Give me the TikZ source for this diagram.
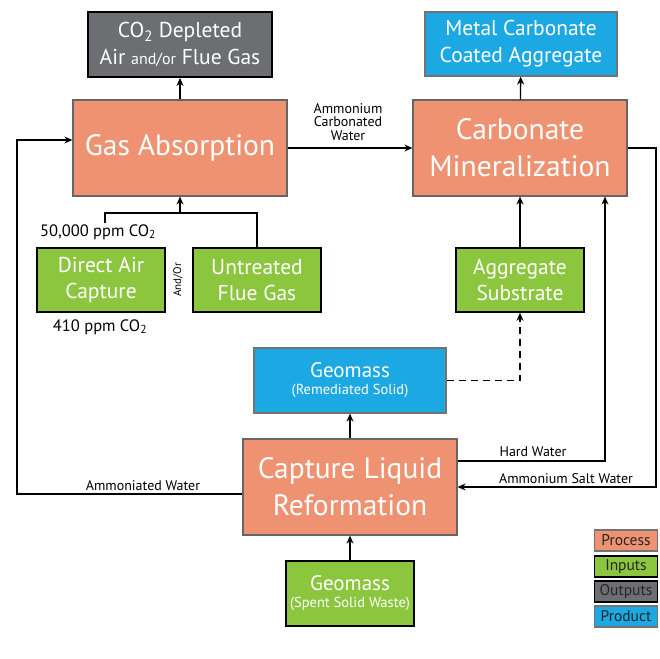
\documentclass[tikz,border=0pt]{standalone}
\usepackage{fontspec}
\setmainfont{PT Sans}
\definecolor{procclr}{HTML}{EF9272}
\definecolor{inclr}{HTML}{8CC63F}
\definecolor{outclr}{HTML}{6D6E71}
\definecolor{prodclr}{HTML}{1BA8E3}
\usetikzlibrary{arrows.meta, positioning, calc}

\tikzset{
  box/.style={rectangle, align=center, text=white, inner sep=2pt},
  procbox/.style={box, fill=procclr, draw=black!60, line width=1.2pt,
    minimum width=214pt, minimum height=96pt,
    font=\fontsize{29.5}{37}\selectfont},
  inbox/.style={box, fill=inclr, draw=black, line width=1.6pt,
    minimum width=128pt, minimum height=64pt,
    font=\fontsize{21.5}{26}\selectfont},
  outbox/.style={box, fill=outclr, draw=black, line width=2pt,
    minimum width=184pt, minimum height=65pt,
    font=\fontsize{21.5}{27}\selectfont},
  prodbox/.style={box, fill=prodclr, draw=black!55, line width=1.2pt,
    minimum width=192pt, minimum height=64pt,
    font=\fontsize{21.5}{27}\selectfont},
  flowlbl/.style={font=\fontsize{14}{13.5}\selectfont, align=center, inner sep=1pt},
  ppmlbl/.style={font=\fontsize{16.5}{17}\selectfont, inner sep=1pt},
  keybox/.style={rectangle, draw=black, line width=1.4pt, minimum width=63pt,
    minimum height=21pt, inner sep=0pt, font=\fontsize{15.5}{16}\selectfont, text=black!85},
  arr/.style={-{Stealth[length=8pt, width=7pt]}, line width=1.3pt},
  line/.style={line width=1.3pt}
}

\begin{document}
\begin{tikzpicture}[x=1pt, y=-1pt]
  \useasboundingbox (0,0) rectangle (659,659);

  % process boxes
  \node[procbox] (gasabs) at (180,148) {Gas Absorption};
  \node[procbox] (carbmin) at (520,148) {Carbonate\\Mineralization};
  \node[procbox] (clr) at (350,487) {Capture Liquid\\Reformation};

  % outputs and products
  \node[outbox] (deplete) at (180,44.5)
    {CO\textsubscript{2} Depleted\\Air {\fontsize{16}{18}\selectfont and/or} Flue Gas};
  \node[prodbox] (metal) at (521,44) {Metal Carbonate\\Coated Aggregate};
  \node[prodbox, minimum height=65pt, font=\fontsize{21}{20}\selectfont] (georem) at (350,380.5)
    {\raisebox{-2pt}{Geomass}\\[-1pt]{\fontsize{14.5}{16}\selectfont (Remediated Solid)}};

  % inputs
  \node[inbox] (dac) at (101,280) {Direct Air\\Capture};
  \node[inbox] (flue) at (257,280) {Untreated\\Flue Gas};
  \node[inbox] (aggr) at (520,280) {Aggregate\\Substrate};
  \node[inbox, minimum height=65pt, font=\fontsize{21}{20}\selectfont] (geospent) at (350,593.5)
    {\raisebox{-2pt}{Geomass}\\[-1pt]{\fontsize{14.5}{16}\selectfont (Spent Solid Waste)}};

  % labels
  \node[ppmlbl] (hippm) at (98,232) {50,000 ppm CO\textsubscript{2}};
  \node[ppmlbl] (loppm) at (100,327) {410 ppm CO\textsubscript{2}};
  \node[flowlbl, rotate=90, font=\fontsize{11}{12}\selectfont] (andor) at (178,280) {And/Or};
  \node[flowlbl] (carbwater) at (348,122) {Ammonium\\Carbonated\\Water};
  \node[flowlbl] (amwater) at (143,486) {Ammoniated Water};
  \node[flowlbl] (hardwater) at (533,452) {Hard Water};
  \node[flowlbl] (saltwater) at (566,479) {Ammonium Salt Water};

  % corner points
  \coordinate (inJ) at (180,213);
  \coordinate (inR) at (257,213);
  \coordinate (loopL) at (17,494);
  \coordinate (saltR) at (656,148);

  % connectors
  \draw[arr] (gasabs) -- (deplete);
  \draw[arr] (carbmin) -- (metal);
  \draw[arr] (gasabs.east) -- (carbmin.west);
  \draw[line] ([xshift=7pt]hippm.north) |- (inR) -- (flue.north);
  \draw[arr] (inJ) -- (gasabs.south);
  \draw[arr] (aggr) -- (carbmin);
  \draw[arr, dash pattern=on 7pt off 5pt, line width=1.2pt] (georem.east) -| (aggr.south);
  \draw[arr] (clr) -- (georem);
  \draw[arr] (geospent) -- (clr);
  \draw[arr] ([yshift=-7pt]clr.west) -- (loopL) |- ([yshift=8pt]gasabs.west);
  \draw[arr] ([yshift=26pt]clr.east) -| ([xshift=85pt]carbmin.south);
  \draw[arr] (carbmin.east) -- (saltR) |- (clr.east);

  % key
  \node[keybox, fill=procclr, draw=black!55] (kproc) at (626,540.5) {Process};
  \node[keybox, fill=inclr] (kin) at (626,566.5) {Inputs};
  \node[keybox, fill=outclr] (kout) at (626,591.5) {Outputs};
  \node[keybox, fill=prodclr, draw=black!55] (kprod) at (626,616.5) {Product};
\end{tikzpicture}
\end{document}
